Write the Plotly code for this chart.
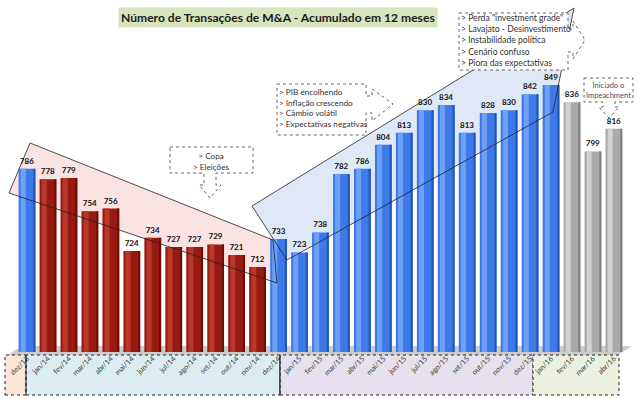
import plotly.graph_objects as go

# ---------------- data ----------------
months = ["dez/13",
          "jan/14", "fev/14", "mar/14", "abr/14", "mai/14", "jun/14",
          "jul/14", "ago/14", "set/14", "out/14", "nov/14", "dez/14",
          "jan/15", "fev/15", "mar/15", "abr/15", "mai/15", "jun/15",
          "jul/15", "ago/15", "set/15", "out/15", "nov/15", "dez/15",
          "jan/16", "fev/16", "mar/16", "abr/16"]
values = [786,
          778, 779, 754, 756, 724, 734, 727, 727, 729, 721, 712, 733,
          723, 738, 782, 786, 804, 813, 830, 834, 813, 828, 830, 842,
          849, 836, 799, 816]
groups = ["blue"] + ["red"] * 11 + ["blue"] * 14 + ["gray"] * 3

title_text = "Número de Transações de M&A - Acumulado em 12 meses"
note_copa = ["> Copa", "> Eleições"]
note_pib = ["> PIB encolhendo", "> Inflação crescendo", "> Câmbio volátil",
            "> Expectativas negativas"]
note_2015 = ['> Perda "investment grade"', "> Lavajato - Desinvestimento",
             "> Instabilidade política", "> Cenário confuso",
             "> Piora das expectativas"]
note_imp = ["Iniciado o", "Impeachment"]

# ---------------- styles ----------------
base_col = {"blue": "#3c7aea", "red": "#981a11", "gray": "#a9a9a9"}
hi_col = {"blue": "#6ea1f5", "red": "#b9372b", "gray": "#d2d2d2"}
dk_col = {"blue": "#2656b4", "red": "#6c0f08", "gray": "#808080"}

W, H = 640, 399
PLOT_H = 352  # plot area height in px (top margin 0)


def X(px):
    return px / W


def Y(py):
    return (PLOT_H - py) / PLOT_H


def path(points):
    s = "M " + " L ".join(f"{X(a):.5f},{Y(b):.5f}" for a, b in points) + " Z"
    return s


fig = go.Figure()

fig.add_bar(x=months, y=values, width=0.8, offset=-0.4,
            marker=dict(color=[base_col[g] for g in groups], line=dict(width=0)),
            text=[str(v) for v in values], textposition="outside",
            textfont=dict(family="Lato", size=8, color="#111111", weight="bold"),
            constraintext="none", cliponaxis=False, hoverinfo="skip")
fig.add_bar(x=months, y=values, width=0.24, offset=-0.3,
            marker=dict(color=[hi_col[g] for g in groups], line=dict(width=0)),
            hoverinfo="skip")
fig.add_bar(x=months, y=values, width=0.1, offset=0.3,
            marker=dict(color=[dk_col[g] for g in groups], line=dict(width=0)),
            hoverinfo="skip")

shapes = []
# floor
shapes.append(dict(type="path", xref="paper", yref="paper", layer="below",
                   path=path([(8, 355), (618, 355), (632, 346), (22, 346)]),
                   fillcolor="#cccccc", line=dict(width=0)))
# trend regions
pink = [(30, 143), (273, 240), (277, 283), (9, 193)]
blue = [(252, 206), (574, 8), (553, 112), (287, 260)]
shapes.append(dict(type="path", xref="paper", yref="paper", layer="below",
                   path=path(pink), fillcolor="#fbe3e3", line=dict(width=0)))
shapes.append(dict(type="path", xref="paper", yref="paper", layer="below",
                   path=path(blue), fillcolor="#dfe8f7", line=dict(width=0)))
for poly in (pink, blue):
    shapes.append(dict(type="path", xref="paper", yref="paper", layer="above",
                       path=path(poly), line=dict(color="#222222", width=0.8)))

# x label boxes
boxes = [(5, 26, "#fbe5d6"), (26, 280, "#dcedf2"), (280, 533, "#e6e1ec"),
         (533, 619, "#ebf0df")]
for x0, x1, c in boxes:
    shapes.append(dict(type="rect", xref="paper", yref="paper", layer="below",
                       x0=X(x0), x1=X(x1), y0=Y(395), y1=Y(355),
                       fillcolor=c, line=dict(color="#222222", width=1, dash="dot")))
for xv in (26, 280):
    shapes.append(dict(type="line", xref="paper", yref="paper",
                       x0=X(xv), x1=X(xv), y0=Y(395), y1=Y(355),
                       line=dict(color="#111111", width=1)))

# callouts
callout_line = dict(color="#666666", width=1, dash="dot")
copa = [(170, 147), (253, 147), (253, 173), (216, 173), (216, 185), (221, 185),
        (210, 198), (199, 185), (204, 185), (204, 173), (170, 173)]
pib = [(277, 84), (366, 84), (366, 96), (372, 96), (372, 89), (393, 104),
       (372, 121), (372, 113), (366, 113), (366, 135), (277, 135)]
top = [(459, 13), (568, 13), (568, 29), (573, 29), (573, 21), (585, 40),
       (573, 59), (573, 52), (568, 52), (568, 70), (459, 70)]
imp = [(584, 78), (633, 78), (633, 102), (615, 102), (615, 107), (619, 107),
       (609, 118), (599, 107), (603, 107), (603, 102), (584, 102)]
for poly in (copa, pib, top, imp):
    shapes.append(dict(type="path", xref="paper", yref="paper", layer="above",
                       path=path(poly), fillcolor="white", line=callout_line))

annotations = [
    dict(text="<b>" + title_text + "</b>", x=X(278), y=Y(17), xref="paper", yref="paper",
         showarrow=False, font=dict(family="Lato", size=12.1, color="#1a1a1a"),
         bgcolor="#d8e4bc", borderpad=2, xanchor="center", yanchor="middle"),
    dict(text="<br>".join(note_copa), x=X(211), y=Y(161), xref="paper", yref="paper",
         showarrow=False, font=dict(family="Lato", size=8.2, color="#333333"),
         align="center", xanchor="center", yanchor="middle"),
    dict(text="<br>".join(note_pib), x=X(277), y=Y(108), xref="paper", yref="paper",
         showarrow=False, font=dict(family="Lato", size=8.2, color="#333333"),
         align="left", xanchor="left", yanchor="middle"),
    dict(text="<br>".join(note_2015), x=X(459), y=Y(41), xref="paper", yref="paper",
         showarrow=False, font=dict(family="Lato", size=8.6, color="#333333"),
         align="left", xanchor="left", yanchor="middle"),
    dict(text="<br>".join(note_imp), x=X(608), y=Y(90), xref="paper", yref="paper",
         showarrow=False, font=dict(family="Lato", size=7.5, color="#4a4a6a"),
         align="center", xanchor="center", yanchor="middle"),
]

fig.update_layout(
    width=W, height=H,
    margin=dict(l=0, r=0, t=0, b=H - PLOT_H, pad=0, autoexpand=False),
    paper_bgcolor="white", plot_bgcolor="rgba(0,0,0,0)",
    barmode="overlay", showlegend=False,
    shapes=shapes, annotations=annotations,
    xaxis=dict(type="category", range=[-1.288, 29.245], showgrid=False,
               zeroline=False, showline=False, ticks="", tickangle=-45,
               automargin=False,
               tickfont=dict(family="Lato", size=7.3, color="#3a3a3a")),
    yaxis=dict(range=[648, 913], visible=False, showgrid=False, zeroline=False,
               automargin=False),
)

fig.write_html("out.html", config={"displayModeBar": False},
               post_script="document.body.style.margin='0px';"
                           "document.body.style.overflow='hidden';")
